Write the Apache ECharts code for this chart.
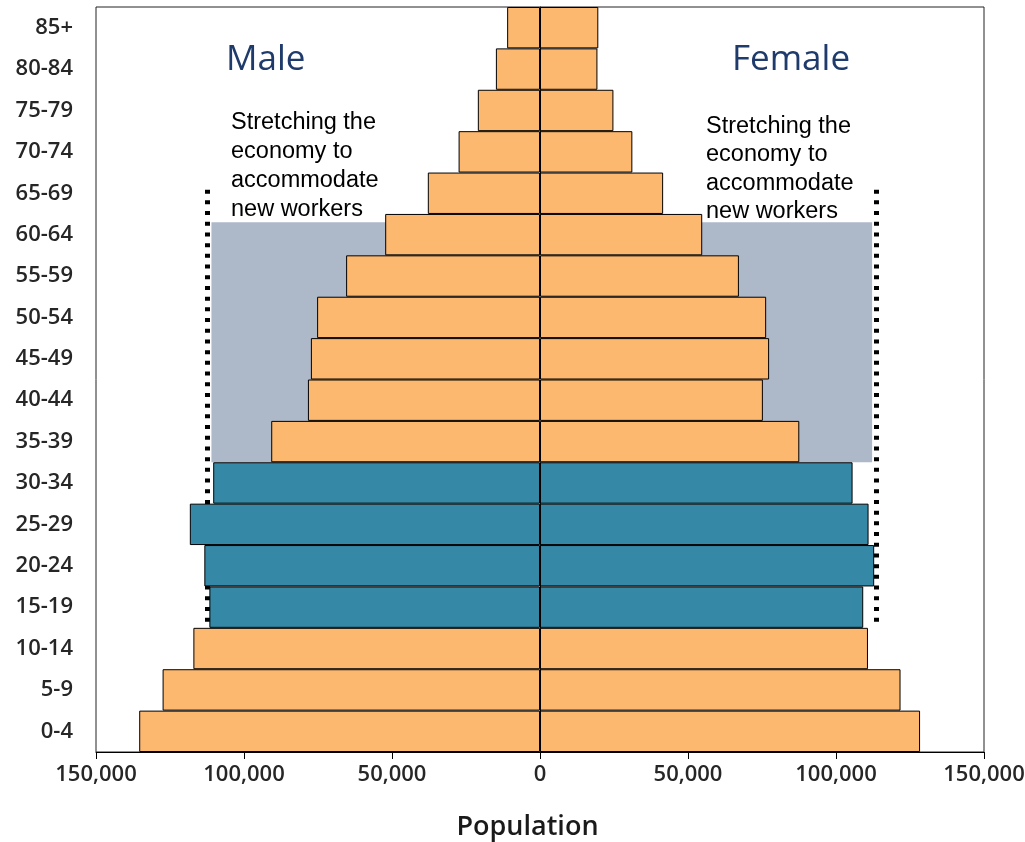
<!DOCTYPE html>
<html>
<head>
<meta charset="utf-8">
<script src="https://cdn.jsdelivr.net/npm/echarts@6/dist/echarts.min.js"></script>
<style>html,body{margin:0;padding:0;background:#fff}#c{width:1025px;height:842px}</style>
</head>
<body>
<div id="c"></div>
<script>
const ageGroups = ['0-4','5-9','10-14','15-19','20-24','25-29','30-34','35-39','40-44','45-49','50-54','55-59','60-64','65-69','70-74','75-79','80-84','85+'];
const male   = [135400,127500,117100,111700,113400,118300,110400,90800,78400,77400,75300,65500,52300,37900,27500,21000,14900,11100];
const female = [128400,121800,110800,109200,112900,111000,105600,87600,75300,77400,76400,67200,54800,41600,31200,24800,19400,19700];
const workingGroups = ['15-19','20-24','25-29','30-34'];
const xTicks = { min: -150000, max: 150000, step: 50000 };
// annotation extents (x in population, y in age-band units from bottom)
const shadeBox = { x0: -111000, x1: 112200, y0: 7, y1: 12.8 };
const dottedLeftX = -112500, dottedRightX = 113500, dottedY0 = 3.15, dottedY1 = 13.65;

const ORANGE = '#FDB86F', BLUE = '#3589A7';
const colorFor = (i) => workingGroups.includes(ageGroups[i]) ? BLUE : ORANGE;
const fmt = v => Math.abs(v).toString().replace(/\B(?=(\d{3})+(?!\d))/g, ',');

const chart = echarts.init(document.getElementById('c'), null, {renderer: 'canvas'});
const labelFont = { fontFamily: 'Open Sans', fontWeight: 600, color: '#262626' };

chart.setOption({
  animation: false,
  grid: { left: 96, right: 41, top: 7, bottom: 90, containLabel: false, outerBoundsMode: 'none',
          show: true, borderColor: '#222', borderWidth: 1, backgroundColor: 'transparent' },
  xAxis: {
    type: 'value', min: xTicks.min, max: xTicks.max, interval: xTicks.step,
    axisLine: { show: true, lineStyle: { color: '#000', width: 1 } },
    axisTick: { show: true, inside: false, length: 7, lineStyle: { color: '#000' } },
    splitLine: { show: false },
    axisLabel: Object.assign({ fontSize: 22, margin: 12, formatter: fmt, hideOverlap: false }, labelFont),
    name: 'Population', nameLocation: 'middle', nameGap: 62,
    nameTextStyle: { fontFamily: 'Open Sans', fontWeight: 600, fontSize: 27, color: '#1a1a1a', padding: [0, 25, 0, 0] }
  },
  yAxis: [{
    type: 'category', data: ageGroups,
    axisLine: { show: true, lineStyle: { color: '#000' } },
    axisTick: { show: false },
    axisLabel: Object.assign({ fontSize: 22, margin: 23 }, labelFont)
  }, {
    type: 'value', min: 0, max: ageGroups.length, show: false
  }],
  series: [
    {
      type: 'scatter', yAxisIndex: 1, data: [], z: 1, silent: true,
      markArea: { silent: true, z: 1, itemStyle: { color: '#ADB8C9' },
        data: [[{ coord: [shadeBox.x0, shadeBox.y0] }, { coord: [shadeBox.x1, shadeBox.y1] }]] },
      markLine: { silent: true, z: 1, symbol: ['none','none'], label: { show: false },
        lineStyle: { color: '#000', width: 5, type: [4, 6.7], cap: 'butt' },
        data: [
          [{ coord: [dottedLeftX, dottedY0] }, { coord: [dottedLeftX, dottedY1] }],
          [{ coord: [dottedRightX, dottedY0] }, { coord: [dottedRightX, dottedY1] }]
        ] }
    },
    {
      name: 'Male', type: 'bar', z: 3, barGap: '-100%', barCategoryGap: '0%',
      data: male.map((v, i) => ({ value: -v, itemStyle: { color: colorFor(i) } })),
      itemStyle: { borderColor: '#000', borderWidth: 1 }
    },
    {
      name: 'Female', type: 'bar', z: 3, barGap: '-100%', barCategoryGap: '0%',
      data: female.map((v, i) => ({ value: v, itemStyle: { color: colorFor(i) } })),
      itemStyle: { borderColor: '#000', borderWidth: 1 }
    }
  ],
  graphic: [
    { type: 'text', left: 226, top: 43, style: { text: 'Male', fontFamily: 'Open Sans', fontSize: 35, fill: '#1F3B6B' } },
    { type: 'text', left: 732, top: 43, style: { text: 'Female', fontFamily: 'Open Sans', fontSize: 35, fill: '#1F3B6B' } },
    { type: 'text', left: 231, top: 108, style: { text: 'Stretching the\neconomy to\naccommodate\nnew workers', fontFamily: 'Liberation Sans', fontSize: 23.5, lineHeight: 29, fill: '#000' } },
    { type: 'text', left: 706, top: 112, style: { text: 'Stretching the\neconomy to\naccommodate\nnew workers', fontFamily: 'Liberation Sans', fontSize: 23.5, lineHeight: 28.5, fill: '#000' } }
  ]
});
</script>
</body>
</html>
